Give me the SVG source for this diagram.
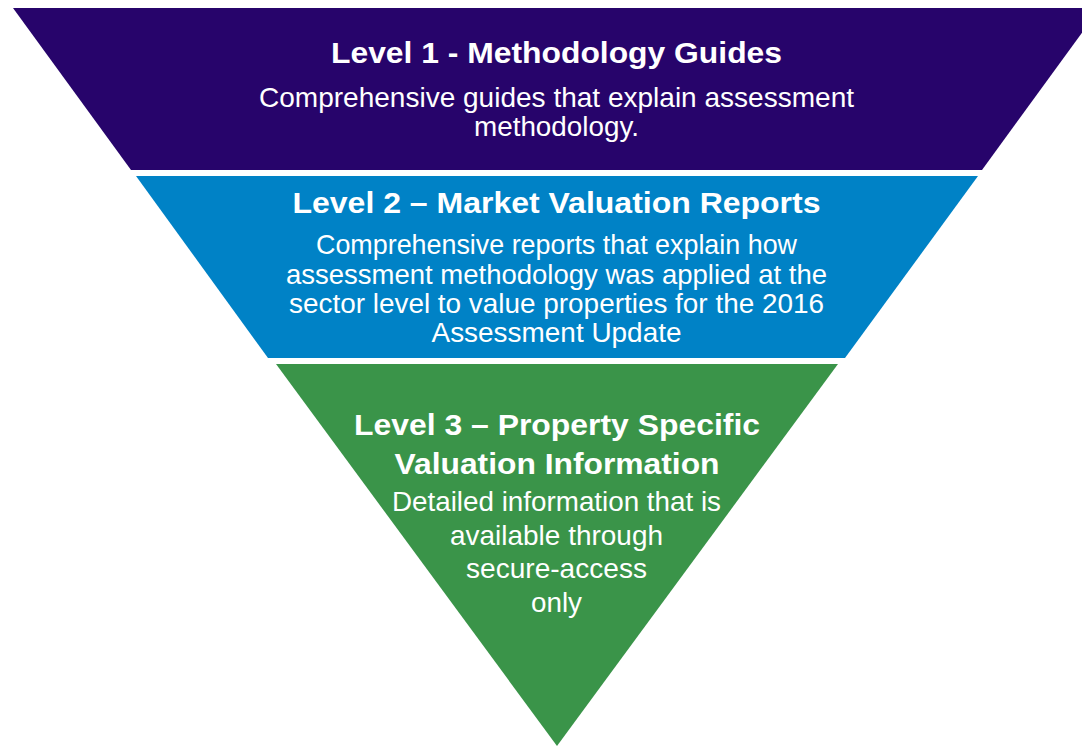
<svg xmlns="http://www.w3.org/2000/svg" width="1082" height="746" viewBox="0 0 1082 746">
<style>
.t{font-family:"Liberation Sans",Arial,sans-serif;font-weight:bold;font-size:29px;fill:#fff;text-anchor:middle}
.b{font-family:"Liberation Sans",Arial,sans-serif;font-size:27.5px;fill:#fff;text-anchor:middle}
</style>
<rect width="1082" height="746" fill="#fff"/>
<g id="level1">
<polygon points="13,8 1100,8 982,170 131,170" fill="#27046B"/>
<text class="t" x="556.5" y="63" textLength="451" lengthAdjust="spacingAndGlyphs">Level 1 - Methodology Guides</text>
<text class="b" x="556.5" y="107" textLength="595" lengthAdjust="spacingAndGlyphs">Comprehensive guides that explain assessment</text>
<text class="b" x="556.5" y="136" textLength="165" lengthAdjust="spacingAndGlyphs">methodology.</text>
</g>
<g id="level2">
<polygon points="136,176 978,176 845,358 268,358" fill="#0082C6"/>
<text class="t" x="556.5" y="213" textLength="528" lengthAdjust="spacingAndGlyphs">Level 2 – Market Valuation Reports</text>
<text class="b" x="556.5" y="254" textLength="481" lengthAdjust="spacingAndGlyphs">Comprehensive reports that explain how</text>
<text class="b" x="556.5" y="284" textLength="541" lengthAdjust="spacingAndGlyphs">assessment methodology was applied at the</text>
<text class="b" x="556.5" y="313" textLength="535" lengthAdjust="spacingAndGlyphs">sector level to value properties for the 2016</text>
<text class="b" x="556.5" y="342" textLength="250" lengthAdjust="spacingAndGlyphs">Assessment Update</text>
</g>
<g id="level3">
<polygon points="276,364 838,364 557,746" fill="#3A9449"/>
<text class="t" x="557" y="435" textLength="406" lengthAdjust="spacingAndGlyphs">Level 3 – Property Specific</text>
<text class="t" x="557" y="474" textLength="325" lengthAdjust="spacingAndGlyphs">Valuation Information</text>
<text class="b" x="556.5" y="511" textLength="329" lengthAdjust="spacingAndGlyphs">Detailed information that is</text>
<text class="b" x="556.5" y="545" textLength="213" lengthAdjust="spacingAndGlyphs">available through</text>
<text class="b" x="556.5" y="578" textLength="181" lengthAdjust="spacingAndGlyphs">secure-access</text>
<text class="b" x="556.5" y="612" textLength="51" lengthAdjust="spacingAndGlyphs">only</text>
</g>
<g id="connectors"></g>
</svg>
